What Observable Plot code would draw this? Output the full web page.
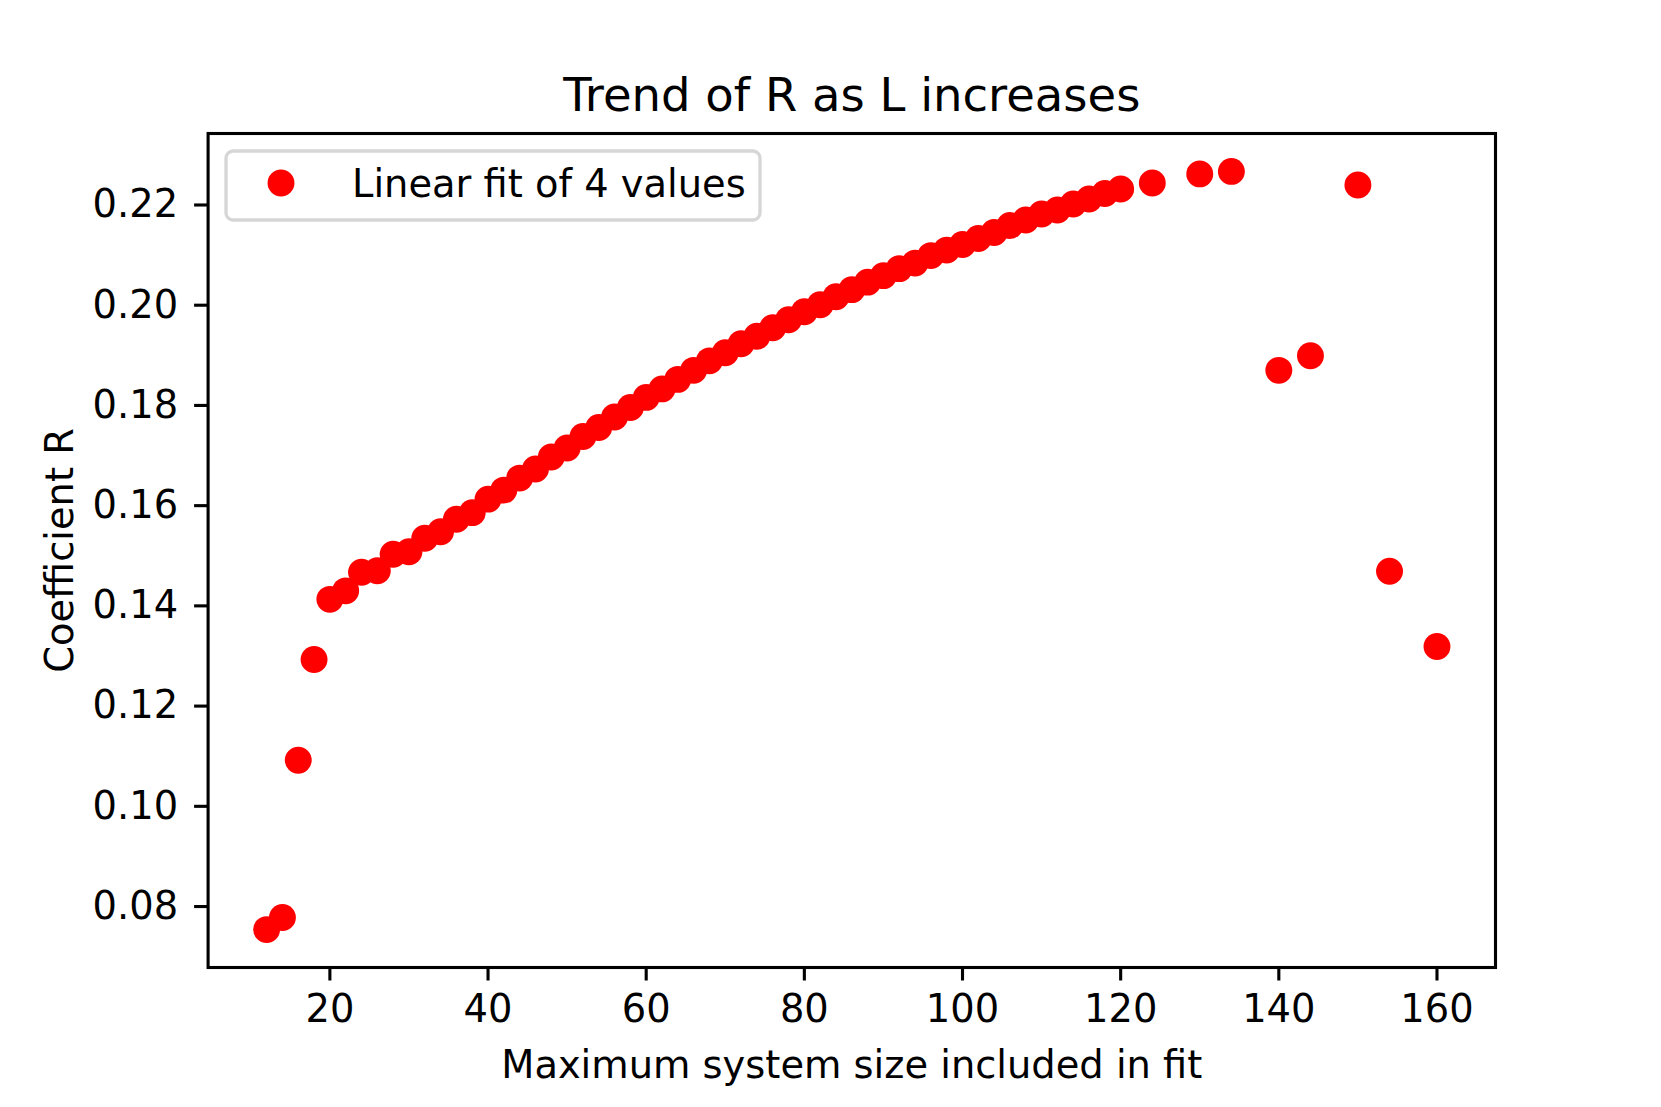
<!DOCTYPE html>
<html>
<head>
<meta charset="utf-8">
<script src="https://cdn.jsdelivr.net/npm/d3@7"></script>
<script src="https://cdn.jsdelivr.net/npm/@observablehq/plot@0.6"></script>
<style>
  html, body { margin: 0; padding: 0; background: white; }
  #chart { width: 1661px; height: 1107px; }
</style>
</head>
<body>
<div id="chart"></div>
<script>
// ---- data ----
const systemSizes = [12, 14, 16, 18, 20, 22, 24, 26, 28, 30, 32, 34, 36, 38, 40, 42, 44, 46, 48, 50,
  52, 54, 56, 58, 60, 62, 64, 66, 68, 70, 72, 74, 76, 78, 80, 82, 84, 86, 88, 90,
  92, 94, 96, 98, 100, 102, 104, 106, 108, 110, 112, 114, 116, 118, 120,
  124, 130, 134, 140, 144, 150, 154, 160];
const coefficientR = [0.0754, 0.0778, 0.1092, 0.1293, 0.1413, 0.1430, 0.1467, 0.1470, 0.1503, 0.1508,
  0.1535, 0.1548, 0.1573, 0.1586, 0.1613, 0.1631, 0.1655, 0.1673, 0.1697, 0.1715,
  0.1738, 0.1756, 0.1777, 0.1796, 0.1816, 0.1833, 0.1852, 0.1870, 0.1889, 0.1905,
  0.1923, 0.1938, 0.1955, 0.1971, 0.1987, 0.2001, 0.2017, 0.2031, 0.2046, 0.2059,
  0.2073, 0.2084, 0.2099, 0.2110, 0.2121, 0.2133, 0.2145, 0.2159, 0.2170, 0.2182,
  0.2190, 0.2202, 0.2212, 0.2223, 0.2232,
  0.2244, 0.2262, 0.2267, 0.1870, 0.1899, 0.2240, 0.1469, 0.1319];
const xTicks = [20, 40, 60, 80, 100, 120, 140, 160];
const yTicks = [0.08, 0.10, 0.12, 0.14, 0.16, 0.18, 0.20, 0.22];
const titleText = "Trend of R as L increases";
const xLabelText = "Maximum system size included in fit";
const yLabelText = "Coefficient R";
const legendText = "Linear fit of 4 values";

const data = systemSizes.map((s, i) => ({size: s, r: coefficientR[i]}));

// matplotlib-style 5% data margins
function padded(values) {
  const [lo, hi] = d3.extent(values);
  const m = (hi - lo) * 0.05;
  return [lo - m, hi + m];
}

const FONT = "DejaVu Sans";
const FS = 38.4;      // 10pt
const FS_TITLE = 46.5; // 12pt
const W = 1661, H = 1107;
const mL = 207.6, mR = 166, mT = 133, mB = 140;

const plot = Plot.plot({
  width: W,
  height: H,
  marginLeft: mL,
  marginRight: mR,
  marginTop: mT,
  marginBottom: mB,
  style: {fontFamily: FONT, fontSize: FS + "px", background: "white", color: "black"},
  x: {domain: padded(systemSizes)},
  y: {domain: padded(coefficientR)},
  marks: [
    Plot.axisX({ticks: xTicks, tickSize: 13.5, tickPadding: 14, strokeWidth: 3.1, fontSize: FS, label: null, tickFormat: d3.format("d")}),
    Plot.axisY({ticks: yTicks, tickSize: 13.5, tickPadding: 16.5, strokeWidth: 3.1, fontSize: FS, label: null, tickFormat: d3.format(".2f")}),
    Plot.dot(data, {x: "size", y: "r", r: 13.45, fill: "#ff0000", stroke: null}),
    Plot.frame({stroke: "black", strokeWidth: 3.1}),
    Plot.text([titleText], {frameAnchor: "top", lineAnchor: "bottom", textAnchor: "middle", dy: -23, fontSize: FS_TITLE, fill: "black", text: d => d}),
    Plot.text([xLabelText], {frameAnchor: "bottom", lineAnchor: "bottom", textAnchor: "middle", dy: 110, fontSize: FS, fill: "black", text: d => d}),
    Plot.text([yLabelText], {frameAnchor: "left", lineAnchor: "bottom", textAnchor: "middle", rotate: -90, dx: -135.6, fontSize: FS, fill: "black", text: d => d})
  ]
});

document.getElementById("chart").appendChild(plot);

// legend (matplotlib-like box in upper-left)
const svg = d3.select(plot);
const lg = svg.append("g").attr("class", "legend");
lg.append("rect")
  .attr("x", 226).attr("y", 151)
  .attr("width", 534).attr("height", 69)
  .attr("rx", 7).attr("ry", 7)
  .attr("fill", "white").attr("fill-opacity", 0.8)
  .attr("stroke", "#d6d6d6").attr("stroke-width", 3.3);
lg.append("circle")
  .attr("cx", 281).attr("cy", 183).attr("r", 13.45)
  .attr("fill", "#ff0000");
lg.append("text")
  .attr("x", 352).attr("y", 197)
  .attr("text-anchor", "start")
  .attr("font-family", FONT).attr("font-size", FS).attr("fill", "black")
  .text(legendText);
</script>
</body>
</html>
